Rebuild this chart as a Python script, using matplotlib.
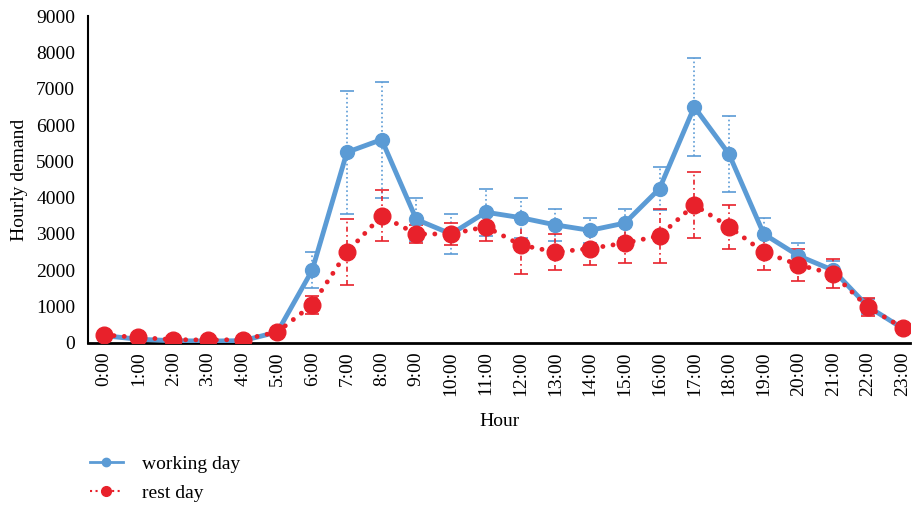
import numpy as np
import matplotlib.pyplot as plt
from matplotlib.lines import Line2D

plt.rcParams['font.family'] = ['Liberation Serif', 'DejaVu Serif']

hours = ['%d:00' % h for h in range(24)]
working = [200, 100, 60, 50, 60, 300, 2000, 5250, 5600, 3400, 3000, 3600,
           3450, 3250, 3100, 3300, 4250, 6500, 5200, 3000, 2400, 2000, 1000, 400]
working_err = [50, 40, 30, 30, 30, 60, 500, 1700, 1600, 600, 550, 650,
               550, 450, 350, 400, 600, 1350, 1050, 450, 350, 250, 200, 60]
rest = [220, 150, 90, 80, 90, 300, 1050, 2500, 3500, 3000, 3000, 3200,
        2700, 2500, 2600, 2750, 2950, 3800, 3200, 2500, 2150, 1900, 980, 420]
rest_err = [50, 40, 30, 30, 30, 60, 250, 900, 700, 250, 300, 400,
            800, 500, 450, 550, 750, 900, 600, 500, 450, 400, 250, 60]

blue = '#5B9BD5'
red = '#E8212B'
x = np.arange(len(hours))

fig = plt.figure(figsize=(9.14, 5.05), dpi=100)
ax = fig.add_axes([0.096, 0.321, 0.9, 0.647])

# error bars, dotted like the original
eb = ax.errorbar(x, working, yerr=working_err, fmt='none', ecolor=blue,
                 elinewidth=1.2, capsize=5, capthick=1.2, zorder=2)
eb[2][0].set_linestyle(':')
eb = ax.errorbar(x, rest, yerr=rest_err, fmt='none', ecolor=red,
                 elinewidth=1.2, capsize=5, capthick=1.2, zorder=2)
eb[2][0].set_linestyle((0, (3, 2, 1, 2)))

ax.plot(x, working, color=blue, lw=3.5, marker='o', ms=10, zorder=3)
ax.plot(x, rest, color=red, lw=3.5, ls=(0, (0.01, 2.1)), dash_capstyle='round',
        marker='o', ms=12, zorder=4)

ax.set_xlim(-0.46, 23.22)
ax.set_ylim(0, 9000)
ax.set_yticks(range(0, 9001, 1000))
ax.set_xticks(x)
ax.set_xticklabels(hours, rotation=90)
ax.tick_params(length=0, labelsize=14)
ax.tick_params(axis='y', pad=9)
ax.tick_params(axis='x', pad=6)
for s in ['top', 'right']:
    ax.spines[s].set_visible(False)
ax.spines['left'].set_linewidth(1.5)
ax.spines['bottom'].set_linewidth(2)
ax.set_ylabel('Hourly demand', fontsize=14, labelpad=6)
ax.set_xlabel('Hour', fontsize=14, labelpad=12)

handles = [
    Line2D([], [], color=blue, lw=2, marker='o', ms=6),
    Line2D([], [], color=red, lw=1.5, ls=':', marker='o', ms=7),
]
fig.legend(handles, ['working day', 'rest day'], loc='upper left',
           bbox_to_anchor=(0.079, 0.133), frameon=False, fontsize=14,
           handlelength=1.7, handletextpad=1.0, labelspacing=0.6)

fig.savefig('out.png', dpi=100)
